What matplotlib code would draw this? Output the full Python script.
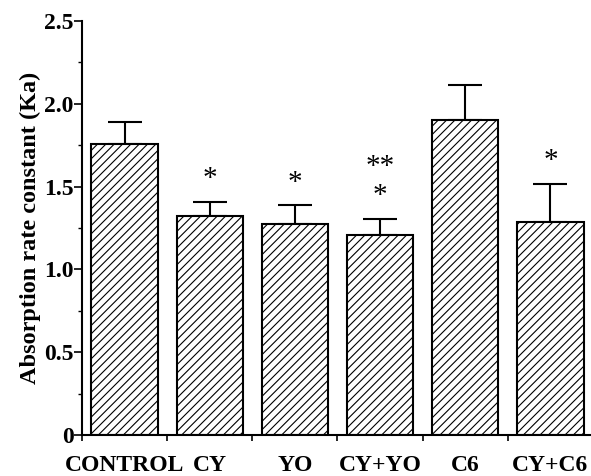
import matplotlib
matplotlib.use("Agg")
import matplotlib.pyplot as plt
from matplotlib.ticker import FixedLocator

categories = ["CONTROL", "CY", "YO", "CY+YO", "C6", "CY+C6"]
means = [1.76, 1.325, 1.277, 1.21, 1.904, 1.289]
errors = [0.13, 0.085, 0.113, 0.097, 0.21, 0.229]
stars = ["", "*", "*", "*", "", "*"]
double_stars = ["", "", "", "**", "", ""]
ytick_values = [0, 0.5, 1.0, 1.5, 2.0, 2.5]
ytick_labels = ["0", "0.5", "1.0", "1.5", "2.0", "2.5"]
yminor_values = [0.25, 0.75, 1.25, 1.75, 2.25]

plt.rcParams["font.family"] = ["Liberation Serif", "DejaVu Serif"]
plt.rcParams["font.weight"] = "bold"
plt.rcParams["hatch.linewidth"] = 0.8

fig = plt.figure(figsize=(5.91, 4.76), dpi=100)
ax = fig.add_axes([82 / 591, 41 / 476, 511 / 591, 414 / 476])

x = list(range(len(categories)))
ax.bar(x, means, width=0.78, color="white", edgecolor="black",
       linewidth=1.5, hatch="////", zorder=2)
ax.errorbar(x, means, yerr=[[0] * len(errors), errors], fmt="none",
            ecolor="black", elinewidth=1.5, capsize=12, capthick=1.5, zorder=1)

for i in x:
    top = means[i] + errors[i]
    if stars[i]:
        ax.annotate(stars[i], (i, top), xytext=(0, 16), textcoords="offset points",
                    ha="center", va="center", fontsize=21, fontweight="normal")
    if double_stars[i]:
        ax.annotate(double_stars[i], (i, top), xytext=(0, 37), textcoords="offset points",
                    ha="center", va="center", fontsize=21, fontweight="normal")

ax.set_xlim(-0.5, len(categories) - 0.5)
ax.set_ylim(0, 2.5)

ax.set_xticks([i - 0.5 for i in range(len(categories) + 1)])
ax.set_xticklabels([])
ax.tick_params(axis="x", which="major", direction="out", length=4, width=1.2)
for i, c in enumerate(categories):
    ax.annotate(c, (i, 0), xytext=(0, -22), textcoords="offset points",
                xycoords=("data", "axes fraction"), ha="center", va="center",
                fontsize=17, fontweight="bold", annotation_clip=False)

ax.set_yticks(ytick_values)
ax.set_yticklabels(ytick_labels, fontsize=17, fontweight="bold")
ax.yaxis.set_minor_locator(FixedLocator(yminor_values))
ax.tick_params(axis="y", which="major", direction="out", length=6, width=1.2, pad=0)
ax.tick_params(axis="y", which="minor", direction="out", length=3, width=1.0)

ax.set_ylabel("Absorption rate constant (Ka)", fontsize=17.5, fontweight="bold", labelpad=2)

for s in ["top", "right"]:
    ax.spines[s].set_visible(False)
for s in ["left", "bottom"]:
    ax.spines[s].set_linewidth(1.5)

fig.savefig("out.png", dpi=100)
